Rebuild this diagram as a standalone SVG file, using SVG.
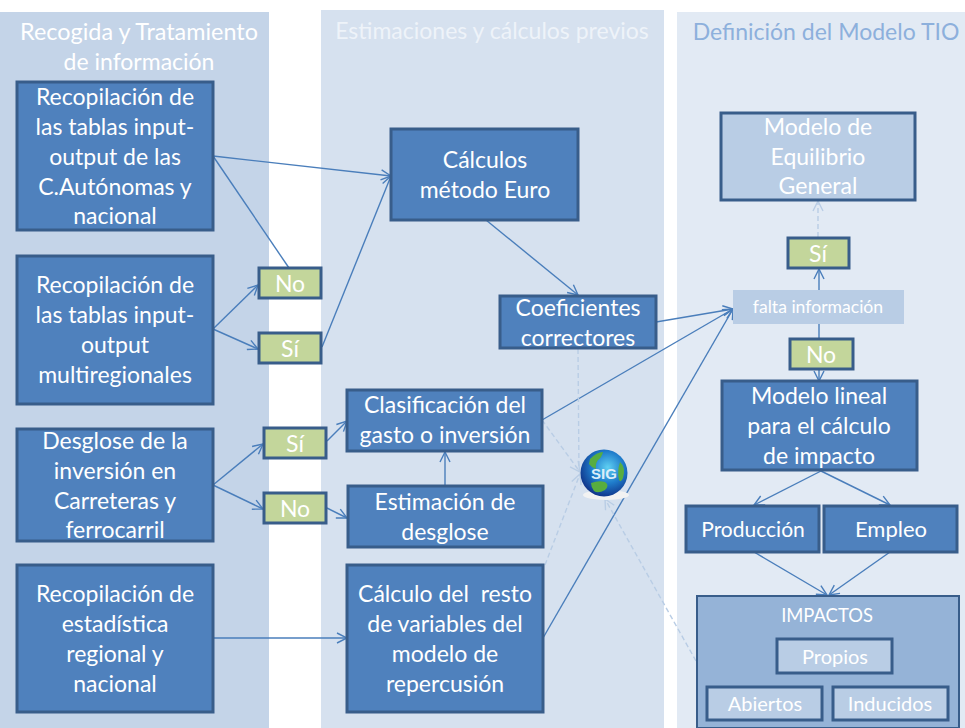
<svg xmlns="http://www.w3.org/2000/svg" width="965" height="728" viewBox="0 0 965 728">
<style>
text{font-family:"Lato","Open Sans","Liberation Sans",sans-serif;fill:#fff;text-anchor:middle;font-size:23px}
.b{fill:#4f81bd;stroke:#385d8a;stroke-width:3}
.g{fill:#c3d69b;stroke:#385d8a;stroke-width:3}
.l{fill:#b9cde5;stroke:#385d8a;stroke-width:3}
.c{fill:none;stroke:#4a7ebb;stroke-width:1.4}
.d{fill:none;stroke:#b9cde5;stroke-width:1.4;stroke-dasharray:5 3}
.a{fill:none;stroke:#4a7ebb;stroke-width:1.4}
.e{fill:none;stroke:#b9cde5;stroke-width:1.4}
.s{font-size:20px}
</style>
<defs>
<marker id="m" viewBox="0 0 12 12" refX="11" refY="6" markerWidth="12" markerHeight="12" markerUnits="userSpaceOnUse" orient="auto"><path class="a" d="M1 1L11 6L1 11"/></marker>
<marker id="n" viewBox="0 0 12 12" refX="11" refY="6" markerWidth="12" markerHeight="12" markerUnits="userSpaceOnUse" orient="auto"><path class="e" d="M1 1L11 6L1 11"/></marker>
<radialGradient id="gl" cx="0.58" cy="0.38" r="0.68"><stop offset="0" stop-color="#5fd0f2"/><stop offset="0.5" stop-color="#1f7ccb"/><stop offset="1" stop-color="#0e2a80"/></radialGradient>
</defs>
<rect width="965" height="728" fill="#fff"/>
<g id="panels">
<rect x="0" y="12" width="269" height="716" fill="#c4d4e8"/>
<rect x="321" y="10" width="343" height="718" fill="#d6e1ef"/>
<rect x="677" y="12" width="288" height="716" fill="#e2eaf4"/>
<text x="139" y="40" style="font-size:23.4px">Recogida y Tratamiento</text>
<text x="139" y="70">de información</text>
<text x="492" y="39" style="fill:#eef3f9">Estimaciones y cálculos previos</text>
<text x="826" y="40" style="fill:#8db0dc">Definición del Modelo TIO</text>
</g>
<g id="connectors">
<path class="c" d="M213 156L391 176" marker-end="url(#m)"/>
<path class="c" d="M213 156L289 268"/>
<path class="c" d="M213 329L258 285" marker-end="url(#m)"/>
<path class="c" d="M213 329L258 349" marker-end="url(#m)"/>
<path class="c" d="M322 347L391 176" marker-end="url(#m)"/>
<path class="c" d="M213 485L263 444" marker-end="url(#m)"/>
<path class="c" d="M213 485L263 509" marker-end="url(#m)"/>
<path class="c" d="M327 441L347 421" marker-end="url(#m)"/>
<path class="c" d="M327 508L347 518" marker-end="url(#m)"/>
<path class="c" d="M445 486V452" marker-end="url(#m)"/>
<path class="c" d="M213 638L347 638" marker-end="url(#m)"/>
<path class="c" d="M486 220L578 295" marker-end="url(#m)"/>
<path class="c" d="M656 322L733 309" marker-end="url(#m)"/>
<path class="c" d="M542 420L733 309" marker-end="url(#m)"/>
<path class="c" d="M543 638L733 309" marker-end="url(#m)"/>
<path class="c" d="M819 290V269" marker-end="url(#m)"/>
<path class="c" d="M819 324V339"/>
<path class="c" d="M819 370V381" marker-end="url(#m)"/>
<path class="c" d="M821 471L754 505" marker-end="url(#m)"/>
<path class="c" d="M821 471L890 505" marker-end="url(#m)"/>
<path class="c" d="M754 552L827 595" marker-end="url(#m)"/>
<path class="c" d="M890 552L829 595" marker-end="url(#m)"/>
<path class="d" d="M818 237V201" marker-end="url(#n)"/>
<path class="d" d="M578 349L579 472"/>
<path class="d" d="M542 420L580 472" marker-end="url(#n)"/>
<path class="d" d="M545 565L580 474" marker-end="url(#n)"/>
<path class="d" d="M696 661L605 499" marker-end="url(#n)"/>
</g>
<g id="n1"><rect class="b" x="17" y="82" width="196" height="148"/><text x="115" y="105">Recopilación de</text><text x="115" y="135">las tablas input-</text><text x="115" y="165">output de las</text><text x="115" y="195">C.Autónomas y</text><text x="115" y="224">nacional</text></g>
<g id="n2"><rect class="b" x="17" y="256" width="196" height="148"/><text x="115" y="293">Recopilación de</text><text x="115" y="323">las tablas input-</text><text x="115" y="353">output</text><text x="115" y="383">multiregionales</text></g>
<g id="n3"><rect class="b" x="17" y="429" width="196" height="112"/><text x="115" y="449">Desglose de la</text><text x="115" y="479">inversión en</text><text x="115" y="509">Carreteras y</text><text x="115" y="538">ferrocarril</text></g>
<g id="n4"><rect class="b" x="17" y="565" width="196" height="147"/><text x="115" y="602">Recopilación de</text><text x="115" y="632">estadística</text><text x="115" y="662">regional y</text><text x="115" y="692">nacional</text></g>
<g id="no1"><rect class="g" x="259" y="268" width="62" height="30"/><text x="290" y="292">No</text></g>
<g id="si1"><rect class="g" x="259" y="333" width="62" height="30"/><text x="290" y="357">Sí</text></g>
<g id="si2"><rect class="g" x="264" y="428" width="62" height="30"/><text x="295" y="452">Sí</text></g>
<g id="no2"><rect class="g" x="264" y="493" width="62" height="30"/><text x="295" y="517">No</text></g>
<g id="n5"><rect class="b" x="391" y="129" width="187" height="91"/><text x="485" y="168">Cálculos</text><text x="485" y="198">método Euro</text></g>
<g id="n6"><rect class="b" x="500" y="296" width="156" height="52"/><text x="578" y="316">Coeficientes</text><text x="578" y="346">correctores</text></g>
<g id="n7"><rect class="b" x="347" y="390" width="195" height="61"/><text x="445" y="413">Clasificación del</text><text x="445" y="443">gasto o inversión</text></g>
<g id="n8"><rect class="b" x="348" y="486" width="195" height="61"/><text x="445" y="510">Estimación de</text><text x="445" y="540">desglose</text></g>
<g id="n9"><rect class="b" x="347" y="565" width="196" height="147"/><text x="445" y="602" xml:space="preserve">Cálculo del  resto</text><text x="445" y="632">de variables del</text><text x="445" y="662">modelo de</text><text x="445" y="692">repercusión</text></g>
<g id="sig"><ellipse cx="606" cy="495" rx="23" ry="5" fill="#f2f2f2"/><circle cx="604" cy="473" r="23.5" fill="url(#gl)"/><path d="M590 459q7-7 13-7q-1 5-5 8q-3 4-2 9q-4-1-7-5zM591 483q8-3 14-1q5 3 0 8q-7 4-11 1q-3-4-3-8zM620 462q6 5 3 16q-2 5-4 2q-2-9 1-18z" fill="#58ad3f"/><text x="604" y="479" style="font-size:15px;font-weight:700;font-family:'Liberation Sans',sans-serif;fill:#dcedf9">SIG</text></g>
<g id="n10"><rect class="l" x="721" y="113" width="194" height="87"/><text x="818" y="135">Modelo de</text><text x="818" y="165">Equilibrio</text><text x="818" y="194">General</text></g>
<g id="si3"><rect class="g" x="788" y="238" width="61" height="30"/><text x="818" y="262">Sí</text></g>
<g id="n11"><rect x="733" y="290" width="171" height="34" fill="#b9cde5"/><text x="818" y="313" style="font-size:17.6px">falta información</text></g>
<g id="no3"><rect class="g" x="790" y="339" width="63" height="30"/><text x="821" y="363">No</text></g>
<g id="n12"><rect class="b" x="722" y="381" width="195" height="89"/><text x="819" y="404">Modelo lineal</text><text x="819" y="434">para el cálculo</text><text x="819" y="464">de impacto</text></g>
<g id="n13"><rect class="b" x="686" y="506" width="133" height="46"/><text x="753" y="537" style="font-size:21px">Producción</text></g>
<g id="n14"><rect class="b" x="824" y="506" width="133" height="46"/><text x="891" y="537" style="font-size:22px">Empleo</text></g>
<g id="n15"><rect x="697" y="596" width="262" height="132" fill="#95b3d7" stroke="#385d8a" stroke-width="2"/><text x="827" y="622" style="font-size:18.4px">IMPACTOS</text></g>
<g id="n16"><rect class="l" x="777" y="639" width="115" height="34"/><text x="835" y="664" class="s">Propios</text></g>
<g id="n17"><rect class="l" x="707" y="687" width="115" height="33"/><text x="765" y="711" class="s">Abiertos</text></g>
<g id="n18"><rect class="l" x="833" y="687" width="115" height="33"/><text x="890" y="711" class="s">Inducidos</text></g>
</svg>
